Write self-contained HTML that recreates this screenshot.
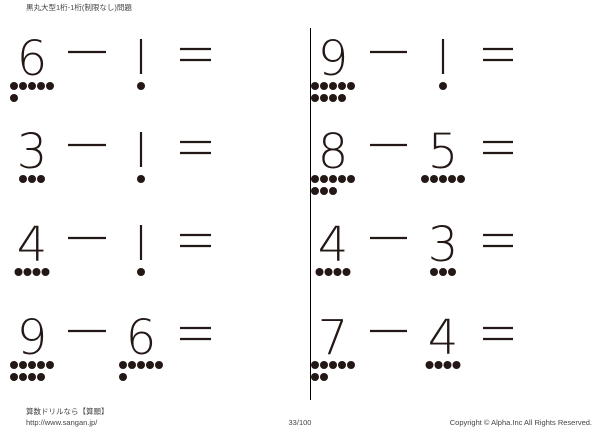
<!DOCTYPE html>
<html><head><meta charset="utf-8"><style>
html,body{margin:0;padding:0;background:#fff;width:600px;height:429px;overflow:hidden}
svg{display:block}
.d{font-family:"DejaVu Sans","Liberation Sans",sans-serif;font-weight:200;font-size:48px;fill:#231815}
.s{font-family:"Liberation Sans","Noto Sans CJK JP",sans-serif;font-size:7.5px;fill:#444}
</style></head><body>
<svg id="c" width="600" height="429" xmlns="http://www.w3.org/2000/svg">
<text class="s" x="26" y="10">黒丸大型1桁-1桁(制限なし)問題</text>
<text class="s" x="26" y="414">算数ドリルなら【算願】</text>
<text class="s" x="26" y="425">http://www.sangan.jp/</text>
<text class="s" x="300" y="425" text-anchor="middle">33/100</text>
<text class="s" x="592" y="425" text-anchor="end">Copyright © Alpha.Inc All Rights Reserved.</text>
<line x1="310.5" y1="28" x2="310.5" y2="400" stroke="#000" stroke-width="1"/>
</svg>
<script>
var svg=document.getElementById('c'),NS='http://www.w3.org/2000/svg';
function el(t,a,txt){var e=document.createElementNS(NS,t);for(var k in a)e.setAttribute(k,a[k]);if(txt)e.textContent=txt;svg.appendChild(e);return e;}
function dots(cx,y,n){
  var r1=Math.min(n,5),sx=cx-(r1-1)*4.5;
  for(var i=0;i<r1;i++)el('circle',{cx:sx+i*9,cy:y,r:4,fill:'#231815'});
  for(var j=0;j<n-5;j++)el('circle',{cx:cx-18+j*9,cy:y+12,r:4,fill:'#231815'});
}
function num(cx,base,dy,n){
  if(n==1){el('line',{x1:cx,y1:base-36,x2:cx,y2:base-1,stroke:'#231815','stroke-width':2.2});}
  else el('text',{'class':'d',x:cx,y:base,'text-anchor':'middle'},String(n));
  dots(cx,dy,n);
}
var rows=[[6,1,9,1],[3,1,8,5],[4,1,4,3],[9,6,7,4]];
for(var r=0;r<4;r++){
  var o=r*93,base=75+o,dy=86+o,my=52+o;
  var R=rows[r];
  num(32,base,dy,R[0]);num(141,base,dy,R[1]);
  num(333,base,dy,R[2]);num(443,base,dy,R[3]);
  [[68,106,180,211],[370,407,483,513]].forEach(function(p){
    el('line',{x1:p[0],y1:my,x2:p[1],y2:my,stroke:'#231815','stroke-width':2.2});
    el('line',{x1:p[2],y1:my-3,x2:p[3],y2:my-3,stroke:'#231815','stroke-width':2.2});
    el('line',{x1:p[2],y1:my+8,x2:p[3],y2:my+8,stroke:'#231815','stroke-width':2.2});
  });
}
</script>
</body></html>
